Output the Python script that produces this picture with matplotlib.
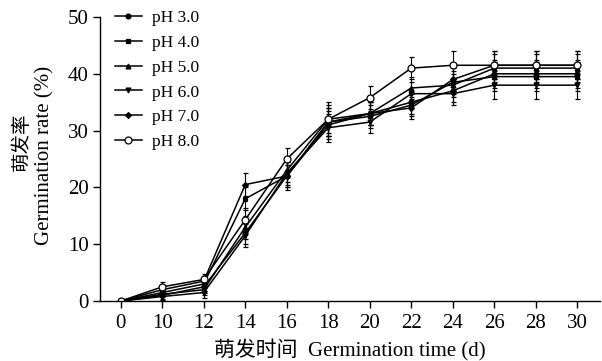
import numpy as np
import matplotlib
matplotlib.use('Agg')
import matplotlib.pyplot as plt

plt.rcParams['font.family'] = ['Liberation Serif', 'Noto Sans CJK SC']

days = ['0', '10', '12', '14', '16', '18', '20', '22', '24', '26', '28', '30']
labels = ['pH 3.0', 'pH 4.0', 'pH 5.0', 'pH 6.0', 'pH 7.0', 'pH 8.0']

ph3 = [0, 1.0, 2.5, 12.0, 22.0, 31.0, 33.0, 35.0, 37.0, 40.0, 40.0, 40.0]
ph4 = [0, 1.5, 3.0, 18.0, 22.0, 31.5, 32.5, 34.5, 38.5, 39.5, 39.5, 39.5]
ph5 = [0, 1.2, 2.0, 13.0, 23.0, 32.0, 33.0, 37.5, 38.0, 41.0, 41.0, 41.0]
ph6 = [0, 0.8, 1.5, 11.5, 22.5, 30.5, 31.5, 36.5, 36.5, 38.0, 38.0, 38.0]
ph7 = [0, 2.0, 3.5, 20.5, 22.0, 31.5, 33.0, 34.0, 39.0, 41.5, 41.5, 41.5]
ph8 = [0, 2.5, 3.8, 14.3, 25.0, 32.0, 35.8, 41.0, 41.5, 41.5, 41.5, 41.5]

err3 = [0.3, 0.8, 1.0, 2.0, 2.0, 2.5, 2.0, 2.0, 2.0, 2.5, 2.5, 2.5]
err4 = [0.3, 0.8, 1.2, 2.0, 2.5, 2.5, 2.0, 2.0, 2.0, 2.5, 2.5, 2.5]
err5 = [0.3, 0.8, 1.0, 2.0, 2.0, 2.5, 2.0, 2.0, 2.0, 2.5, 2.5, 2.5]
err6 = [0.3, 0.8, 1.0, 2.0, 2.0, 2.5, 2.0, 2.0, 2.0, 2.5, 2.5, 2.5]
err7 = [0.3, 0.8, 1.0, 2.0, 2.0, 2.5, 2.0, 2.0, 2.0, 2.5, 2.5, 2.5]
err8 = [0.3, 0.8, 1.0, 2.0, 2.0, 3.0, 2.0, 2.0, 2.5, 2.5, 2.5, 2.5]

series = [ph3, ph4, ph5, ph6, ph7, ph8]
errs = [err3, err4, err5, err6, err7, err8]
markers = ['o', 's', '^', 'v', 'D', 'o']
msizes = [3.5, 3.5, 3.5, 3.5, 3.0, 5.0]

fig = plt.figure(figsize=(6.02, 3.61), dpi=100)
ax = fig.add_axes([0.166, 0.166, 0.831, 0.787])
x = np.arange(len(days))

for i in range(len(series)):
    face = 'white' if i == 5 else 'black'
    ax.errorbar(x, series[i], yerr=errs[i], color='black', marker=markers[i],
                markersize=msizes[i], markerfacecolor=face, markeredgecolor='black',
                markeredgewidth=0.9, linewidth=1.1, elinewidth=0.8, capsize=1.8,
                label=labels[i])

ax.set_xlim(-0.5, 11.55)
ax.set_ylim(0, 50)
ax.set_xticks(x)
ax.set_xticklabels(days)
ax.set_yticks([0, 10, 20, 30, 40, 50])
ax.spines['top'].set_visible(False)
ax.spines['right'].set_visible(False)
ax.spines['left'].set_linewidth(1.0)
ax.spines['bottom'].set_linewidth(1.0)
ax.tick_params(direction='out', length=5, width=1.0, labelsize=15, pad=3)
ax.tick_params(axis='x', pad=4)

ax.set_xlabel('萌发时间  Germination time (d)', fontsize=15, labelpad=5)
fig.text(21 / 602, 1 - 142 / 361, '萌发率', rotation=90, fontsize=14,
         ha='center', va='center')
fig.text(45 / 602, 1 - 155 / 361, 'Germination rate (%)', rotation=90, fontsize=15,
         ha='center', va='center')

handles, labs = ax.get_legend_handles_labels()
handles = [h[0] for h in handles]
ax.legend(handles, labs, loc='upper left', bbox_to_anchor=(0.03, 1.025), frameon=False,
          fontsize=12.5, handlelength=1.55, handletextpad=0.6, labelspacing=0.5,
          borderpad=0, borderaxespad=0)

plt.savefig('out.png', dpi=100)
